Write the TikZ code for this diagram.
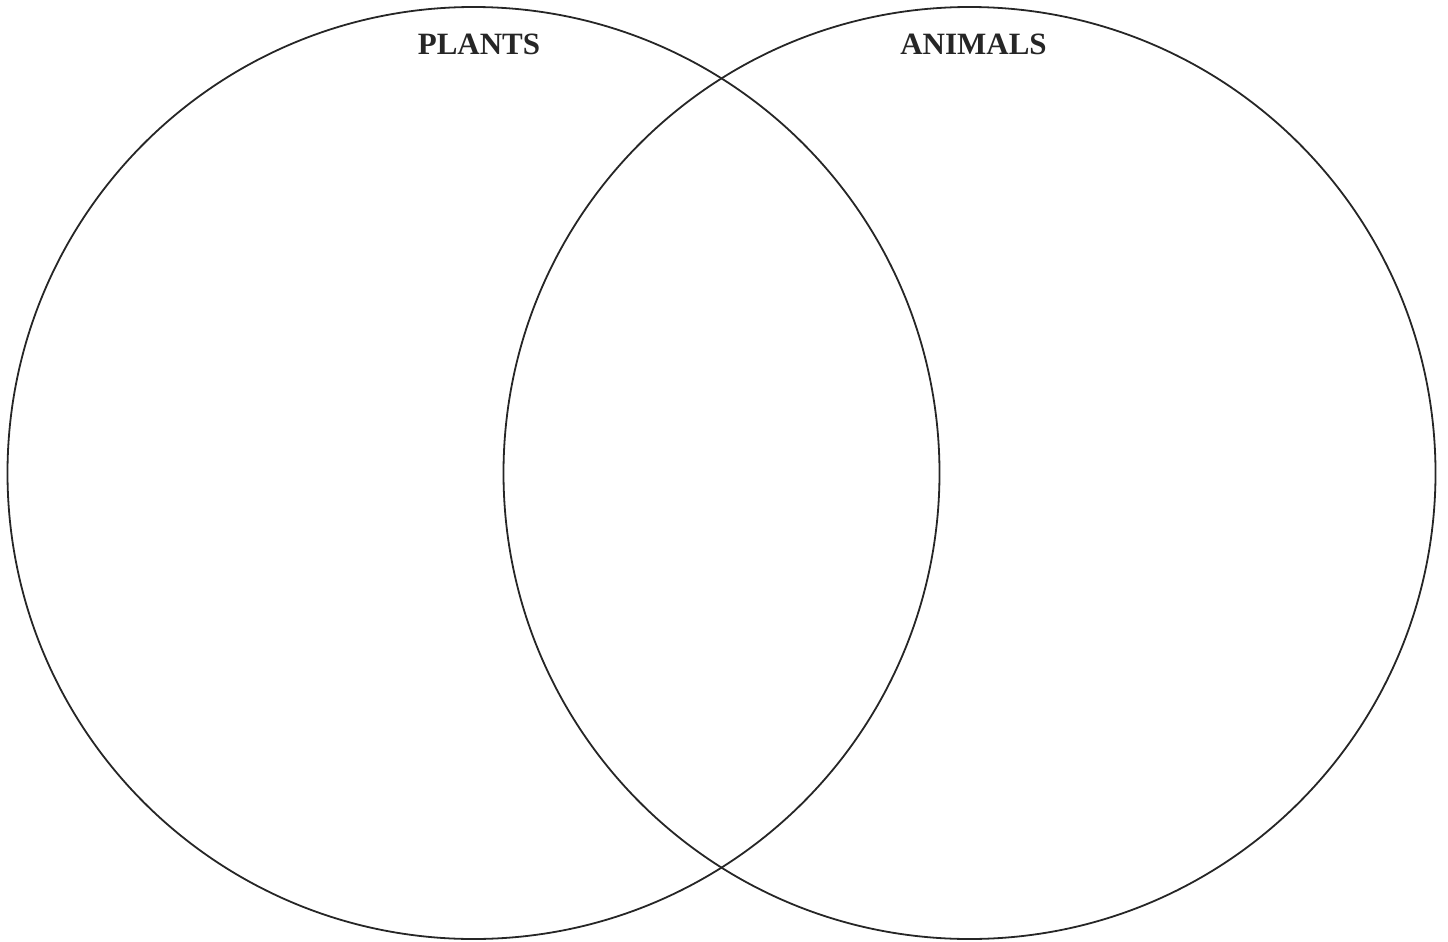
\documentclass[tikz,border=0pt]{standalone}
\usepackage{fontspec}
\setmainfont{Liberation Serif}
\begin{document}
\begin{tikzpicture}[x=1pt,y=-1pt,
  ring/.style={draw=black!85,line width=1.8pt,circle,inner sep=0pt,minimum size=932pt},
  title/.style={font=\fontsize{31}{31}\selectfont\bfseries,text=black!85,anchor=base,inner sep=0pt}]
\useasboundingbox (0,0) rectangle (1448,942);
\node[ring] (plants) at (473.5,473) {};
\node[ring] (animals) at (969.5,473) {};
\node[title] (lp) at (479,55) {PLANTS};
\node[title] (la) at (973.5,55) {ANIMALS};
\end{tikzpicture}
\end{document}
